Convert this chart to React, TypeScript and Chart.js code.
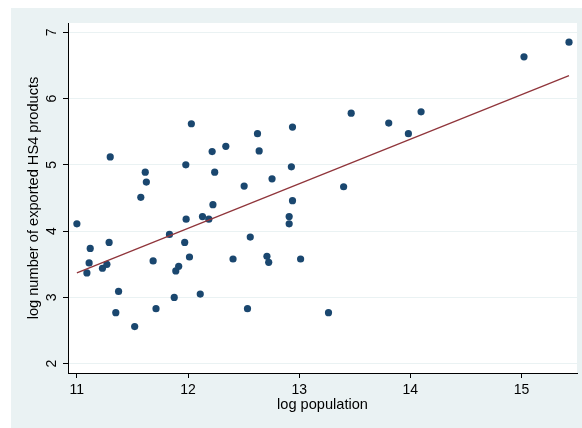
import React, { useEffect, useRef } from "react";
import { Chart, registerables } from "chart.js";

Chart.register(...registerables);

// log population (x) and log number of exported HS4 products (y), one entry per country
const logPopulation = [
  11.0, 11.09, 11.11, 11.12, 11.23, 11.27, 11.29, 11.3, 11.35, 11.375,
  11.52, 11.575, 11.615, 11.625, 11.686, 11.712, 11.833, 11.876, 11.89, 11.916,
  11.97, 11.98, 11.983, 12.013, 12.03, 12.11, 12.13, 12.187, 12.217, 12.224,
  12.24, 12.34, 12.405, 12.505, 12.535, 12.56, 12.625, 12.64, 12.71, 12.726,
  12.756, 12.91, 12.91, 12.93, 12.94, 12.94, 13.013, 13.264, 13.4, 13.468,
  13.806, 13.983, 14.097, 15.023, 15.428,
];
const logProducts = [
  4.11, 3.37, 3.52, 3.74, 3.44, 3.5, 3.83, 5.12, 2.77, 3.09,
  2.56, 4.51, 4.89, 4.74, 3.55, 2.83, 3.95, 3.0, 3.4, 3.47,
  3.83, 5.0, 4.18, 3.61, 5.62, 3.05, 4.22, 4.18, 5.2, 4.4,
  4.89, 5.28, 3.58, 4.68, 2.83, 3.91, 5.47, 5.21, 3.62, 3.53,
  4.79, 4.11, 4.22, 4.97, 5.57, 4.46, 3.58, 2.77, 4.67, 5.78,
  5.63, 5.47, 5.8, 6.63, 6.85,
];

// fitted line endpoints
const fitX = [11.0, 15.428];
const fitY = [3.37, 6.345];

const xTicks = [11, 12, 13, 14, 15];
const yTicks = [2, 3, 4, 5, 6, 7];

const xTitle = "log population";
const yTitle = "log number of exported HS4 products";

const FONT = "'Liberation Sans', Arial, sans-serif";
const BG = "#EAF2F3";

const bgPlugin = {
  id: "stataBg",
  beforeDraw(chart: any) {
    const { ctx, width, height, chartArea } = chart;
    ctx.save();
    ctx.fillStyle = "#ffffff";
    ctx.fillRect(0, 0, width, height);
    ctx.fillStyle = BG;
    ctx.fillRect(11, 8, width - 11, height - 8);
    ctx.fillStyle = "#ffffff";
    ctx.fillRect(
      chartArea.left,
      chartArea.top,
      chartArea.right - chartArea.left,
      chartArea.bottom - chartArea.top
    );
    ctx.restore();
  },
};

export default function App() {
  const ref = useRef<HTMLCanvasElement | null>(null);

  useEffect(() => {
    if (!ref.current) return;
    const points = logPopulation.map((x, i) => ({ x, y: logProducts[i] }));
    const fit = fitX.map((x, i) => ({ x, y: fitY[i] }));
    const chart = new Chart(ref.current, {
      type: "scatter",
      data: {
        datasets: [
          {
            data: fit,
            showLine: true,
            borderColor: "#90353B",
            borderWidth: 1.3,
            pointRadius: 0,
            fill: false,
          } as any,
          {
            data: points,
            backgroundColor: "#1A476F",
            borderColor: "#1A476F",
            borderWidth: 0,
            pointRadius: 3.6,
          },
        ],
      },
      plugins: [bgPlugin],
      options: {
        animation: false,
        responsive: false,
        devicePixelRatio: 1,
        layout: { padding: { left: 11, top: 23, right: 5, bottom: 0 } },
        plugins: {
          legend: { display: false },
          tooltip: { enabled: false },
        },
        scales: {
          x: {
            type: "linear",
            min: 10.92,
            max: 15.5,
            afterBuildTicks: (scale: any) => {
              scale.ticks = xTicks.map((v) => ({ value: v }));
            },
            afterFit: (scale: any) => {
              scale.height = 55;
            },
            border: { display: true, color: "#000", width: 1 },
            grid: {
              drawOnChartArea: false,
              drawTicks: true,
              tickLength: 5,
              tickColor: "#000",
              color: "#000",
            },
            ticks: {
              autoSkip: false,
              padding: 4,
              color: "#000",
              font: { family: FONT, size: 14 },
              maxRotation: 0,
              minRotation: 0,
              callback: (v: any) => String(v),
            },
            title: {
              display: true,
              text: xTitle,
              color: "#000",
              font: { family: FONT, size: 14.6 },
              padding: { top: 0, bottom: 14 },
            },
          },
          y: {
            type: "linear",
            min: 1.86,
            max: 7.14,
            afterBuildTicks: (scale: any) => {
              scale.ticks = yTicks.map((v) => ({ value: v }));
            },
            afterFit: (scale: any) => {
              scale.width = 57;
            },
            border: { display: true, color: "#000", width: 1 },
            grid: {
              drawOnChartArea: true,
              drawTicks: true,
              tickLength: 5,
              color: BG,
              lineWidth: 1,
              tickColor: "#000",
            },
            ticks: {
              autoSkip: false,
              padding: 7,
              color: "#000",
              font: { family: FONT, size: 14 },
              minRotation: 90,
              maxRotation: 90,
              crossAlign: "center",
              callback: (v: any) => String(v),
            },
            title: {
              display: true,
              text: yTitle,
              color: "#000",
              font: { family: FONT, size: 14.6 },
              padding: { top: 14, bottom: 0 },
            },
          },
        },
      },
    });
    return () => chart.destroy();
  }, []);

  return (
    <div style={{ position: "absolute", left: 0, top: 0, width: 582, height: 428 }}>
      <canvas ref={ref} width={582} height={428} style={{ width: 582, height: 428, display: "block" }} />
    </div>
  );
}
